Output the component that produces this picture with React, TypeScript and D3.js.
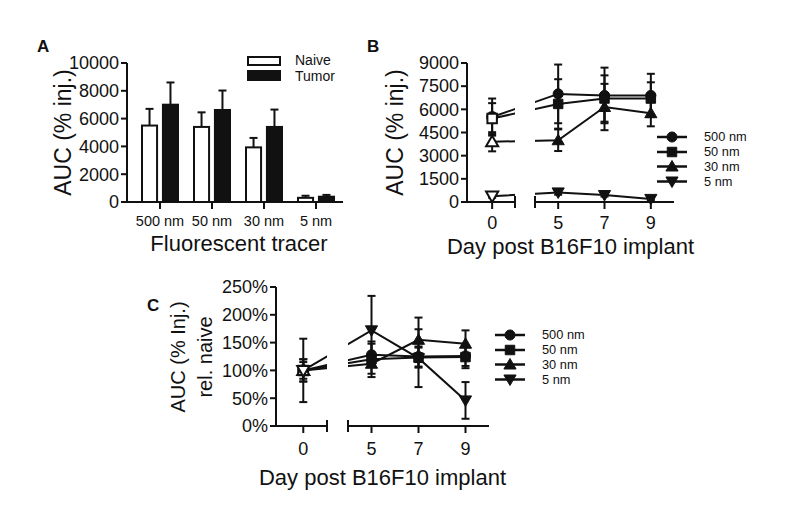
import React from "react";
import * as d3 from "d3";

// ---------- Panel A data ----------
const categoriesA = ["500 nm", "50 nm", "30 nm", "5 nm"];
const groupsA = ["Naive", "Tumor"];
const naiveMean = [5500, 5400, 3930, 300];
const naiveErr = [1200, 1050, 680, 150];
const tumorMean = [7000, 6620, 5400, 380];
const tumorErr = [1600, 1400, 1250, 130];
const yTicksA = [0, 2000, 4000, 6000, 8000, 10000];

// ---------- Panel B / C data ----------
const days = [0, 5, 7, 9];
const seriesNames = ["500 nm", "50 nm", "30 nm", "5 nm"];
const markerTypes = ["circle", "square", "triangle", "triangleDown"];

const bMean500 = [5500, 7000, 6900, 6900];
const bErr500 = [1200, 1900, 1800, 1400];
const bMean50 = [5400, 6350, 6700, 6700];
const bErr50 = [1000, 1600, 1500, 1050];
const bMean30 = [3900, 4000, 6150, 5750];
const bErr30 = [620, 700, 1500, 850];
const bMean5 = [380, 620, 450, 200];
const bErr5 = [100, 150, 100, 80];
const yTicksB = [0, 1500, 3000, 4500, 6000, 7500, 9000];

const cMean500 = [100, 128, 125, 126];
const cErr500 = [20, 20, 18, 18];
const cMean50 = [100, 120, 123, 124];
const cErr50 = [20, 32, 18, 20];
const cMean30 = [100, 112, 155, 148];
const cErr30 = [15, 18, 40, 24];
const cMean5 = [100, 172, 122, 46];
const cErr5 = [57, 62, 52, 33];
const yTicksC = [0, 0.5, 1, 1.5, 2, 2.5];

const FONT = "'Liberation Sans', Arial, Helvetica, sans-serif";
const INK = "#111";

function markerPath(type: string) {
  const t =
    type === "circle"
      ? d3.symbolCircle
      : type === "square"
      ? d3.symbolSquare
      : d3.symbolTriangle;
  const size = type === "circle" ? 80 : type === "square" ? 90 : 64;
  return d3.symbol(t, size)() as string;
}

function Marker({ type, x, y, hollow }: { type: string; x: number; y: number; hollow?: boolean }) {
  const rot = type === "triangleDown" ? 180 : 0;
  const dy = type === "triangleDown" ? -1 : type === "triangle" ? 1 : 0;
  return (
    <path
      d={markerPath(type)}
      transform={`translate(${x},${y + dy}) rotate(${rot})`}
      fill={hollow ? "#fff" : INK}
      stroke={INK}
      strokeWidth={hollow ? 2 : 1}
    />
  );
}

type Series = { name: string; marker: string; mean: number[]; err: number[] };

function LinePanel(props: {
  id: string;
  series: Series[];
  yScale: d3.ScaleLinear<number, number>;
  seg1: d3.ScaleLinear<number, number>;
  seg2: d3.ScaleLinear<number, number>;
  yTicks: number[];
  tickFmt: (v: number) => string;
  legendX: number;
  legendY: number[];
  tickLabelDy: number;
  titleY: number;
}) {
  const { id, series, yScale, seg1, seg2, yTicks, tickFmt, legendX, legendY, tickLabelDy, titleY } = props;
  const xOf = (d: number) => (d <= 1 ? seg1(d) : seg2(d));
  const y0 = yScale(0);
  const s1 = seg1.range();
  const s2 = seg2.range();
  const top = yScale.range()[1];
  const line = d3
    .line<number>()
    .x((_, i) => xOf(days[i]))
    .y((v) => yScale(v));
  return (
    <g>
      <defs>
        <clipPath id={id}>
          <rect x={s1[0]} y={top - 40} width={s1[1] - s1[0]} height={y0 - top + 60} />
          <rect x={s2[0]} y={top - 40} width={s2[1] - s2[0] + 10} height={y0 - top + 60} />
        </clipPath>
      </defs>
      {/* y axis */}
      <line x1={s1[0]} x2={s1[0]} y1={top} y2={y0 + 1} stroke={INK} strokeWidth={2} />
      {yTicks.map((t) => (
        <g key={t}>
          <line x1={s1[0] - 6} x2={s1[0]} y1={yScale(t)} y2={yScale(t)} stroke={INK} strokeWidth={2} />
          <text
            x={s1[0] - 8}
            y={yScale(t)}
            dy="0.35em"
            textAnchor="end"
            fontSize={18}
            fontFamily={FONT}
            fill={INK}
          >
            {tickFmt(t)}
          </text>
        </g>
      ))}
      {/* x axis, broken */}
      <line x1={s1[0] - 1} x2={s1[1]} y1={y0} y2={y0} stroke={INK} strokeWidth={2} />
      <line x1={s2[0]} x2={s2[1]} y1={y0} y2={y0} stroke={INK} strokeWidth={2} />
      <line x1={s1[1]} x2={s1[1]} y1={y0 - 6} y2={y0 + 6} stroke={INK} strokeWidth={2} />
      <line x1={s2[0]} x2={s2[0]} y1={y0 - 6} y2={y0 + 6} stroke={INK} strokeWidth={2} />
      {days.map((d) => (
        <g key={d}>
          <line x1={xOf(d)} x2={xOf(d)} y1={y0} y2={y0 + 7} stroke={INK} strokeWidth={2} />
          <text
            x={xOf(d)}
            y={y0 + tickLabelDy}
            textAnchor="middle"
            fontSize={18}
            fontFamily={FONT}
            fill={INK}
          >
            {d}
          </text>
        </g>
      ))}
      <text
        x={(s1[0] + s2[1]) / 2}
        y={titleY}
        textAnchor="middle"
        fontSize={22}
        fontFamily={FONT}
        fill={INK}
      >
        Day post B16F10 implant
      </text>
      {/* lines */}
      <g clipPath={`url(#${id})`}>
        {series.map((s) => (
          <path key={s.name} d={line(s.mean) as string} fill="none" stroke={INK} strokeWidth={2} />
        ))}
      </g>
      {/* error bars */}
      {series.map((s) =>
        s.mean.map((m, i) => {
          const x = xOf(days[i]);
          const yt = yScale(m + s.err[i]);
          const yb = yScale(Math.max(0, m - s.err[i]));
          return (
            <g key={s.name + i}>
              <line x1={x} x2={x} y1={yt} y2={yb} stroke={INK} strokeWidth={2} />
              <line x1={x - 4} x2={x + 4} y1={yt} y2={yt} stroke={INK} strokeWidth={2} />
              <line x1={x - 4} x2={x + 4} y1={yb} y2={yb} stroke={INK} strokeWidth={2} />
            </g>
          );
        })
      )}
      {/* markers */}
      {series.map((s) =>
        s.mean.map((m, i) => (
          <Marker key={s.name + "m" + i} type={s.marker} x={xOf(days[i])} y={yScale(m)} hollow={i === 0} />
        ))
      )}
      {/* legend */}
      {series.map((s, i) => (
        <g key={"leg" + s.name}>
          <line x1={legendX} x2={legendX + 30} y1={legendY[i]} y2={legendY[i]} stroke={INK} strokeWidth={2.5} />
          <Marker type={s.marker} x={legendX + 15} y={legendY[i]} />
          <text
            x={legendX + 47}
            y={legendY[i]}
            dy="0.35em"
            fontSize={12.8}
            fontFamily={FONT}
            fill={INK}
          >
            {s.name}
          </text>
        </g>
      ))}
    </g>
  );
}

export default function App() {
  // ----- Panel A scales -----
  const yA = d3.scaleLinear().domain([0, 10000]).range([202, 63]);
  const xA = d3.scaleBand<string>().domain(categoriesA).range([134, 342]);
  const subA = d3.scaleBand<string>().domain(groupsA).range([-18, 18]).paddingInner(0.28);
  const axisAx = 127;

  // ----- Panel B -----
  const yB = d3.scaleLinear().domain([0, 9000]).range([202, 63]);
  const seg1B = d3.scaleLinear().domain([-1.1, 1]).range([467, 515]);
  const seg2B = d3.scaleLinear().domain([4, 10]).range([535, 674]);
  const seriesB: Series[] = [
    { name: seriesNames[0], marker: markerTypes[0], mean: bMean500, err: bErr500 },
    { name: seriesNames[1], marker: markerTypes[1], mean: bMean50, err: bErr50 },
    { name: seriesNames[2], marker: markerTypes[2], mean: bMean30, err: bErr30 },
    { name: seriesNames[3], marker: markerTypes[3], mean: bMean5, err: bErr5 },
  ];

  // ----- Panel C -----
  const yC = d3.scaleLinear().domain([0, 2.5]).range([426, 287]);
  const seg1C = d3.scaleLinear().domain([-1.15, 1]).range([276, 327]);
  const seg2C = d3.scaleLinear().domain([4, 10]).range([348, 489]);
  const toFrac = (a: number[]) => a.map((v) => v / 100);
  const seriesC: Series[] = [
    { name: seriesNames[0], marker: markerTypes[0], mean: toFrac(cMean500), err: toFrac(cErr500) },
    { name: seriesNames[1], marker: markerTypes[1], mean: toFrac(cMean50), err: toFrac(cErr50) },
    { name: seriesNames[2], marker: markerTypes[2], mean: toFrac(cMean30), err: toFrac(cErr30) },
    { name: seriesNames[3], marker: markerTypes[3], mean: toFrac(cMean5), err: toFrac(cErr5) },
  ];
  const pct = d3.format(".0%");

  const barsA = [
    { g: "Naive", mean: naiveMean, err: naiveErr, fill: "#fff" },
    { g: "Tumor", mean: tumorMean, err: tumorErr, fill: INK },
  ];

  return (
    <svg
      width={800}
      height={509}
      style={{ position: "absolute", left: 0, top: 0, background: "#fff" }}
      fontFamily={FONT}
    >
      <rect width={800} height={509} fill="#fff" />
      {/* Panel letters */}
      <text x={37} y={52} fontSize={17} fontWeight="bold" fill={INK}>A</text>
      <text x={367} y={52} fontSize={17} fontWeight="bold" fill={INK}>B</text>
      <text x={147} y={311} fontSize={17} fontWeight="bold" fill={INK}>C</text>

      {/* ===== Panel A ===== */}
      <g>
        {barsA.map((b) =>
          categoriesA.map((c, i) => {
            const cx = (xA(c) as number) + xA.bandwidth() / 2;
            const x = cx + (subA(b.g) as number);
            const w = subA.bandwidth();
            const top = yA(b.mean[i]);
            const et = yA(b.mean[i] + b.err[i]);
            return (
              <g key={b.g + c}>
                <line x1={x + w / 2} x2={x + w / 2} y1={top} y2={et} stroke={INK} strokeWidth={2} />
                <line x1={x + w / 2 - 4} x2={x + w / 2 + 4} y1={et} y2={et} stroke={INK} strokeWidth={2} />
                <rect
                  x={x}
                  y={top}
                  width={w}
                  height={yA(0) - top}
                  fill={b.fill}
                  stroke={INK}
                  strokeWidth={2}
                />
              </g>
            );
          })
        )}
        <line x1={axisAx} x2={axisAx} y1={63} y2={yA(0) + 1} stroke={INK} strokeWidth={2} />
        <line x1={axisAx - 1} x2={343} y1={yA(0)} y2={yA(0)} stroke={INK} strokeWidth={2} />
        {yTicksA.map((t) => (
          <g key={t}>
            <line x1={axisAx - 6} x2={axisAx} y1={yA(t)} y2={yA(t)} stroke={INK} strokeWidth={2} />
            <text x={axisAx - 8} y={yA(t)} dy="0.35em" textAnchor="end" fontSize={18} fill={INK}>
              {t}
            </text>
          </g>
        ))}
        {categoriesA.map((c) => {
          const cx = (xA(c) as number) + xA.bandwidth() / 2;
          return (
            <g key={c}>
              <line x1={cx} x2={cx} y1={yA(0)} y2={yA(0) + 7} stroke={INK} strokeWidth={2} />
              <text x={cx} y={226} textAnchor="middle" fontSize={14.5} fill={INK}>
                {c}
              </text>
            </g>
          );
        })}
        <text x={239} y={251} textAnchor="middle" fontSize={22} fill={INK}>
          Fluorescent tracer
        </text>
        <text
          transform={`translate(63,${(63 + 202) / 2}) rotate(-90)`}
          textAnchor="middle"
          dy="0.35em"
          fontSize={23}
          fill={INK}
        >
          AUC (% inj.)
        </text>
        {/* legend */}
        <rect x={248} y={57} width={32} height={8} fill="#fff" stroke={INK} strokeWidth={2} />
        <text x={295} y={60} dy="0.35em" fontSize={14} fill={INK}>{groupsA[0]}</text>
        <rect x={248} y={71} width={32} height={9} fill={INK} stroke={INK} strokeWidth={2} />
        <text x={295} y={76.5} dy="0.35em" fontSize={14} fill={INK}>{groupsA[1]}</text>
      </g>

      {/* ===== Panel B ===== */}
      <LinePanel
        id="clipB"
        series={seriesB}
        yScale={yB}
        seg1={seg1B}
        seg2={seg2B}
        yTicks={yTicksB}
        tickFmt={(v) => String(v)}
        legendX={657}
        legendY={[137, 152, 166.5, 181.5]}
        tickLabelDy={27}
        titleY={254}
      />
      <text
        transform={`translate(395,${(63 + 202) / 2}) rotate(-90)`}
        textAnchor="middle"
        dy="0.35em"
        fontSize={23}
        fill={INK}
      >
        AUC (% inj.)
      </text>

      {/* ===== Panel C ===== */}
      <LinePanel
        id="clipC"
        series={seriesC}
        yScale={yC}
        seg1={seg1C}
        seg2={seg2C}
        yTicks={yTicksC}
        tickFmt={(v) => pct(v)}
        legendX={495}
        legendY={[335, 350, 364.5, 379.5]}
        tickLabelDy={29}
        titleY={485}
      />
      <text
        transform={`translate(178,357) rotate(-90)`}
        textAnchor="middle"
        dy="0.35em"
        fontSize={20}
        fill={INK}
      >
        AUC (% Inj.)
      </text>
      <text
        transform={`translate(205,357) rotate(-90)`}
        textAnchor="middle"
        dy="0.35em"
        fontSize={20}
        fill={INK}
      >
        rel. naive
      </text>
    </svg>
  );
}
